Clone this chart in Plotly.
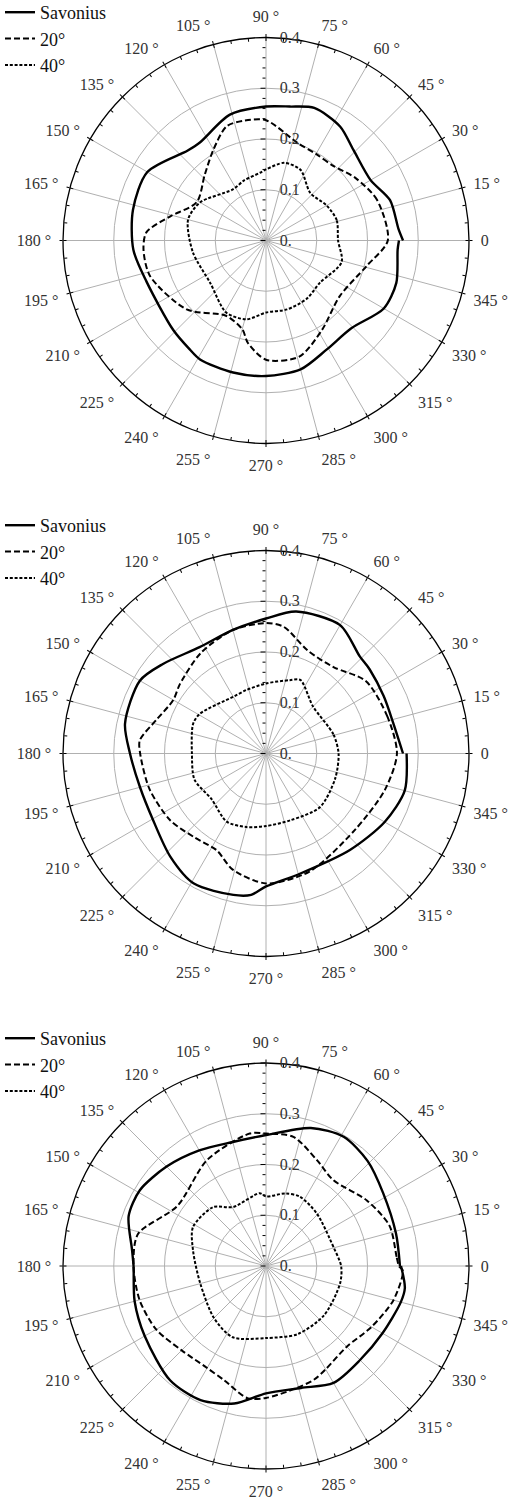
import plotly.graph_objects as go

# ---------------- data (angle in degrees, power coefficient) ----------------
P1_SAV_T = [0, 5, 18, 30, 46, 57, 70, 80, 90, 106, 124, 131, 150, 167, 184, 199, 224, 235, 241, 256, 270, 285, 299, 314, 330, 342, 356, 360]
P1_SAV_R = [0.270, 0.262, 0.257, 0.238, 0.248, 0.268, 0.278, 0.268, 0.264, 0.258, 0.233, 0.235, 0.270, 0.269, 0.262, 0.249, 0.254, 0.262, 0.268, 0.268, 0.267, 0.263, 0.246, 0.241, 0.268, 0.270, 0.260, 0.262]
P1_D20_T = [0, 20, 35, 48, 60, 72, 90, 100, 109, 120, 133, 151, 166, 176, 184, 197, 221, 242, 255, 260, 270, 286, 302, 323, 346, 360]
P1_D20_R = [0.240, 0.233, 0.215, 0.198, 0.197, 0.202, 0.237, 0.240, 0.238, 0.207, 0.177, 0.156, 0.195, 0.236, 0.242, 0.239, 0.207, 0.168, 0.181, 0.205, 0.235, 0.238, 0.208, 0.182, 0.205, 0.240]
P1_D40_T = [0, 16, 30, 47, 64, 77, 90, 95, 110, 123, 150, 165, 189, 217, 241, 256, 270, 287, 305, 322, 344, 360]
P1_D40_R = [0.142, 0.145, 0.138, 0.128, 0.155, 0.157, 0.140, 0.134, 0.126, 0.120, 0.150, 0.159, 0.146, 0.138, 0.162, 0.160, 0.142, 0.142, 0.140, 0.135, 0.155, 0.142]

P2_SAV_T = [0, 13, 26, 39, 46, 60, 78, 90, 105, 122, 139, 150, 168, 180, 195, 210, 227, 241, 257, 264, 270, 286, 311, 330, 345, 360]
P2_SAV_R = [0.270, 0.258, 0.258, 0.263, 0.266, 0.292, 0.286, 0.266, 0.252, 0.247, 0.269, 0.287, 0.284, 0.268, 0.257, 0.258, 0.277, 0.293, 0.286, 0.280, 0.262, 0.246, 0.252, 0.270, 0.283, 0.277]
P2_D20_T = [0, 17, 36, 52, 68, 82, 90, 105, 123, 141, 150, 163, 174, 180, 197, 215, 230, 243, 254, 270, 290, 319, 343, 360]
P2_D20_R = [0.258, 0.250, 0.243, 0.216, 0.219, 0.252, 0.257, 0.252, 0.236, 0.218, 0.211, 0.226, 0.250, 0.248, 0.240, 0.230, 0.217, 0.214, 0.238, 0.256, 0.248, 0.231, 0.245, 0.258]
P2_D40_T = [0, 16, 45, 65, 72, 90, 107, 120, 149, 158, 180, 200, 220, 240, 255, 270, 290, 315, 340, 360]
P2_D40_R = [0.143, 0.138, 0.131, 0.160, 0.152, 0.138, 0.131, 0.129, 0.152, 0.155, 0.146, 0.150, 0.140, 0.155, 0.150, 0.143, 0.140, 0.150, 0.145, 0.143]

P3_SAV_T = [0, 14, 32, 46, 59, 72, 90, 105, 120, 135, 149, 160, 173, 180, 195, 210, 230, 244, 257, 270, 286, 300, 315, 330, 345, 351, 360]
P3_SAV_R = [0.264, 0.264, 0.272, 0.288, 0.297, 0.286, 0.258, 0.253, 0.263, 0.277, 0.290, 0.288, 0.266, 0.261, 0.268, 0.276, 0.294, 0.294, 0.278, 0.251, 0.250, 0.266, 0.262, 0.265, 0.275, 0.277, 0.266]
P3_D20_T = [0, 4, 18, 33, 52, 64, 78, 90, 97, 119, 146, 166, 180, 195, 210, 225, 240, 250, 262, 270, 284, 293, 300, 315, 330, 345, 358, 360]
P3_D20_R = [0.262, 0.258, 0.256, 0.237, 0.215, 0.231, 0.260, 0.261, 0.263, 0.239, 0.211, 0.260, 0.261, 0.258, 0.250, 0.235, 0.232, 0.240, 0.263, 0.260, 0.248, 0.243, 0.235, 0.225, 0.240, 0.260, 0.270, 0.262]
P3_D40_T = [0, 16, 46, 64, 75, 90, 95, 119, 132, 152, 168, 195, 225, 245, 270, 295, 320, 347, 360]
P3_D40_R = [0.148, 0.138, 0.144, 0.152, 0.148, 0.137, 0.144, 0.133, 0.156, 0.163, 0.147, 0.134, 0.145, 0.155, 0.142, 0.148, 0.150, 0.150, 0.148]

SERIES_NAMES = ["Savonius", "20°", "40°"]
MAJOR_ANGLES = list(range(0, 360, 15))
MAJOR_ANGLE_TEXT = ["0" if a == 0 else f"{a} °" for a in MAJOR_ANGLES]
ALL_ANGLES = list(range(0, 360, 5))
RADIAL_MAJOR = [0.0, 0.1, 0.2, 0.3, 0.4]
RADIAL_TEXT = ["0.", "0.1", "0.2", "0.3", "0.4"]
RADIAL_MINOR = [0.02, 0.04, 0.06, 0.08, 0.12, 0.14, 0.16, 0.18, 0.22, 0.24, 0.26, 0.28, 0.32, 0.34, 0.36, 0.38]

PLOTS = [
    [(P1_SAV_T, P1_SAV_R), (P1_D20_T, P1_D20_R), (P1_D40_T, P1_D40_R)],
    [(P2_SAV_T, P2_SAV_R), (P2_D20_T, P2_D20_R), (P2_D40_T, P2_D40_R)],
    [(P3_SAV_T, P3_SAV_R), (P3_D20_T, P3_D20_R), (P3_D40_T, P3_D40_R)],
]

W, H = 514, 1501
CX, RAD = 266, 203
CENTERS_Y = [240.5, 753.5, 1266]
LEGEND_TOP = [-6, 507, 1020]

FONT = "Liberation Serif, Times New Roman, serif"
STYLES = [dict(width=2.4, dash="solid"), dict(width=2.0, dash="6px,3px"), dict(width=2.0, dash="3px,1.8px")]

fig = go.Figure()
layout = dict(
    width=W, height=H, margin=dict(l=0, r=0, t=0, b=0, autoexpand=False),
    paper_bgcolor="white", plot_bgcolor="white", showlegend=True,
    font=dict(family=FONT, color="#222"),
)


def ang(**kw):
    base = dict(rotation=0, direction="counterclockwise", tickmode="array")
    base.update(kw)
    return base


xdom = [(CX - RAD) / W, (CX + RAD) / W]
n = 1
for i, (plot, cy) in enumerate(zip(PLOTS, CENTERS_Y)):
    ydom = [(H - cy - RAD) / H, (H - cy + RAD) / H]
    main = "polar" if n == 1 else f"polar{n}"
    minor = f"polar{n + 1}"
    outer = f"polar{n + 2}"
    n += 3
    leg = "legend" if i == 0 else f"legend{i + 1}"
    for (th, rr), name, st in zip(plot, SERIES_NAMES, STYLES):
        fig.add_trace(go.Scatterpolar(
            theta=th, r=rr, mode="lines", name=name,
            line=dict(color="black", width=st["width"], dash=st["dash"], shape="spline", smoothing=0.8),
            subplot=main, legend=leg, hoverinfo="skip",
        ))
    dom = dict(x=xdom, y=ydom)
    layout[main] = dict(
        domain=dom, bgcolor="rgba(0,0,0,0)",
        radialaxis=dict(range=[0, 0.4], angle=90, tickangle=90, side="clockwise",
                        tickvals=RADIAL_MAJOR, ticktext=RADIAL_TEXT, ticks="outside", ticklen=10,
                        tickcolor="rgba(0,0,0,0)", showline=False,
                        showgrid=True, gridcolor="#b0b0b0", gridwidth=1,
                        tickfont=dict(family=FONT, size=16, color="#333")),
        angularaxis=ang(tickvals=MAJOR_ANGLES, ticktext=MAJOR_ANGLE_TEXT, ticks="outside", ticklen=8,
                        tickcolor="rgba(0,0,0,0)", showline=True, linecolor="black", linewidth=1.3,
                        showgrid=True, gridcolor="#b0b0b0", gridwidth=1,
                        tickfont=dict(family=FONT, size=16, color="#333")),
    )
    layout[minor] = dict(
        domain=dom, bgcolor="rgba(0,0,0,0)",
        radialaxis=dict(range=[0, 0.4], angle=90, side="counterclockwise",
                        tickvals=RADIAL_MINOR, ticks="outside", ticklen=3, tickcolor="black",
                        showticklabels=False, showgrid=False, showline=False),
        angularaxis=ang(tickvals=ALL_ANGLES, ticks="inside", ticklen=3, tickcolor="black",
                        showticklabels=False, showgrid=False, showline=False),
    )
    layout[outer] = dict(
        domain=dom, bgcolor="rgba(0,0,0,0)",
        radialaxis=dict(range=[0, 0.4], angle=90, side="counterclockwise",
                        tickvals=RADIAL_MAJOR, ticks="outside", ticklen=5, tickcolor="black",
                        showticklabels=False, showgrid=False, showline=False),
        angularaxis=ang(tickvals=MAJOR_ANGLES, ticks="outside", ticklen=3, tickcolor="black",
                        showticklabels=False, showgrid=False, showline=False),
    )
    layout[leg] = dict(
        x=0.0, xanchor="left", y=1 - LEGEND_TOP[i] / H, yanchor="top",
        bgcolor="rgba(0,0,0,0)", font=dict(family=FONT, size=18, color="#111"),
        tracegroupgap=0, itemwidth=30,
    )
    # invisible anchor traces so the tick-only polar layers are rendered
    for sp in (minor, outer):
        fig.add_trace(go.Scatterpolar(theta=[0], r=[0], mode="markers", marker=dict(size=1, opacity=0),
                                      subplot=sp, showlegend=False, hoverinfo="skip"))

fig.update_layout(**layout)
fig.write_html("out.html")
